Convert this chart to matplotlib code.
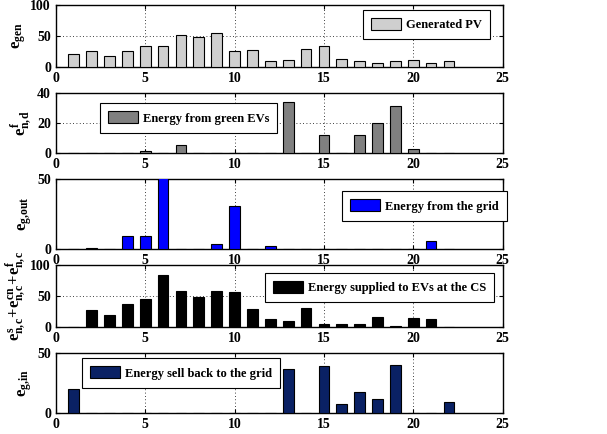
import matplotlib
matplotlib.use("Agg")
import matplotlib.pyplot as plt
import numpy as np

plt.rcParams['font.family'] = ['Liberation Serif', 'DejaVu Serif']
plt.rcParams['font.weight'] = 'bold'
plt.rcParams['mathtext.fontset'] = 'custom'
plt.rcParams['mathtext.rm'] = 'Liberation Serif:bold'
plt.rcParams['mathtext.it'] = 'Liberation Serif:bold'
plt.rcParams['mathtext.bf'] = 'Liberation Serif:bold'

# hours 1..22
hours = np.arange(1, 23)

pv_gen = [20, 26, 18, 26, 33, 33, 51, 48, 54, 25, 27, 9, 11, 29, 33, 12, 9, 6, 10, 11, 6, 10]
green_ev = [0, 0, 0, 0, 1.5, 0, 5.5, 0, 0, 0, 0, 0, 34, 0, 12, 0, 12, 20, 31.5, 2.5, 0, 0]
grid_out = [0, 0.5, 0, 9.5, 9.5, 52, 0, 0, 4, 30.5, 0, 2, 0, 0, 0, 0, 0, 0, 0, 0, 5.5, 0]
supplied = [0, 27, 19, 36, 44, 83, 57, 48, 58, 56, 28, 12, 9, 30, 5, 5, 4, 15, 1.5, 14, 12, 0]
grid_in = [20.5, 0, 0, 0, 0, 0, 0, 0, 0, 0, 0, 0, 37, 0, 39.5, 8, 18, 11.5, 40, 0, 0, 9.5]

labels = ['Generated PV', 'Energy from green EVs', 'Energy from the grid',
          'Energy supplied to EVs at the CS', 'Energy sell back to the grid']
ylabels = [r'$e_{gen}$', r'$e^f_{n,\!d}$', r'$e_{g,\!out}$',
           r'$e^s_{n,\!c}\!+\!e^{cn}_{n,\!c}\!+\!e^f_{n,\!c}$', r'$e_{g,\!in}$']
colors = ['#cfcfcf', '#808080', '#0000ff', '#000000', '#0a2164']
ymaxes = [100, 40, 50, 100, 50]
yticks = [[0, 50, 100], [0, 20, 40], [0, 50], [0, 50, 100], [0, 50]]
series = [pv_gen, green_ev, grid_out, supplied, grid_in]

# axes rectangles (left, bottom, width, height) in figure fraction
boxes = [
    (0.092, 0.846, 0.736, 0.143),
    (0.092, 0.647, 0.736, 0.138),
    (0.092, 0.426, 0.736, 0.161),
    (0.092, 0.247, 0.736, 0.143),
    (0.092, 0.048, 0.736, 0.138),
]
leg_pos = [(0.687, 0.919), (0.098, 0.833), (0.640, 0.829), (0.468, 0.871), (0.058, 0.917)]

fig = plt.figure(figsize=(6.07, 4.34), dpi=100)

for i in range(5):
    ax = fig.add_axes(boxes[i])
    ax.bar(hours, series[i], width=0.6, color=colors[i], edgecolor='black',
           linewidth=0.8, label=labels[i], zorder=3)
    ax.set_xlim(0, 25)
    ax.set_ylim(0, ymaxes[i])
    ax.set_xticks([0, 5, 10, 15, 20, 25])
    ax.set_yticks(yticks[i])
    ax.grid(True, linestyle=(0, (1, 3)), color='black', linewidth=0.6, zorder=0)
    ax.tick_params(direction='in', top=True, right=True, labelsize=10, length=3)
    for lab in ax.get_xticklabels() + ax.get_yticklabels():
        lab.set_fontweight('bold')
    for s in ax.spines.values():
        s.set_linewidth(1.0)
    ax.set_ylabel(ylabels[i], fontsize=12, labelpad=2)
    leg = ax.legend(loc='upper left', bbox_to_anchor=leg_pos[i], borderaxespad=0,
                    fancybox=False, edgecolor='black', framealpha=1,
                    prop={'weight': 'bold', 'size': 9}, handlelength=2.4,
                    handleheight=1.1, borderpad=0.65, handletextpad=0.4)
    leg.get_frame().set_linewidth(0.8)
    leg.set_zorder(5)

fig.savefig('out.png', dpi=100)
